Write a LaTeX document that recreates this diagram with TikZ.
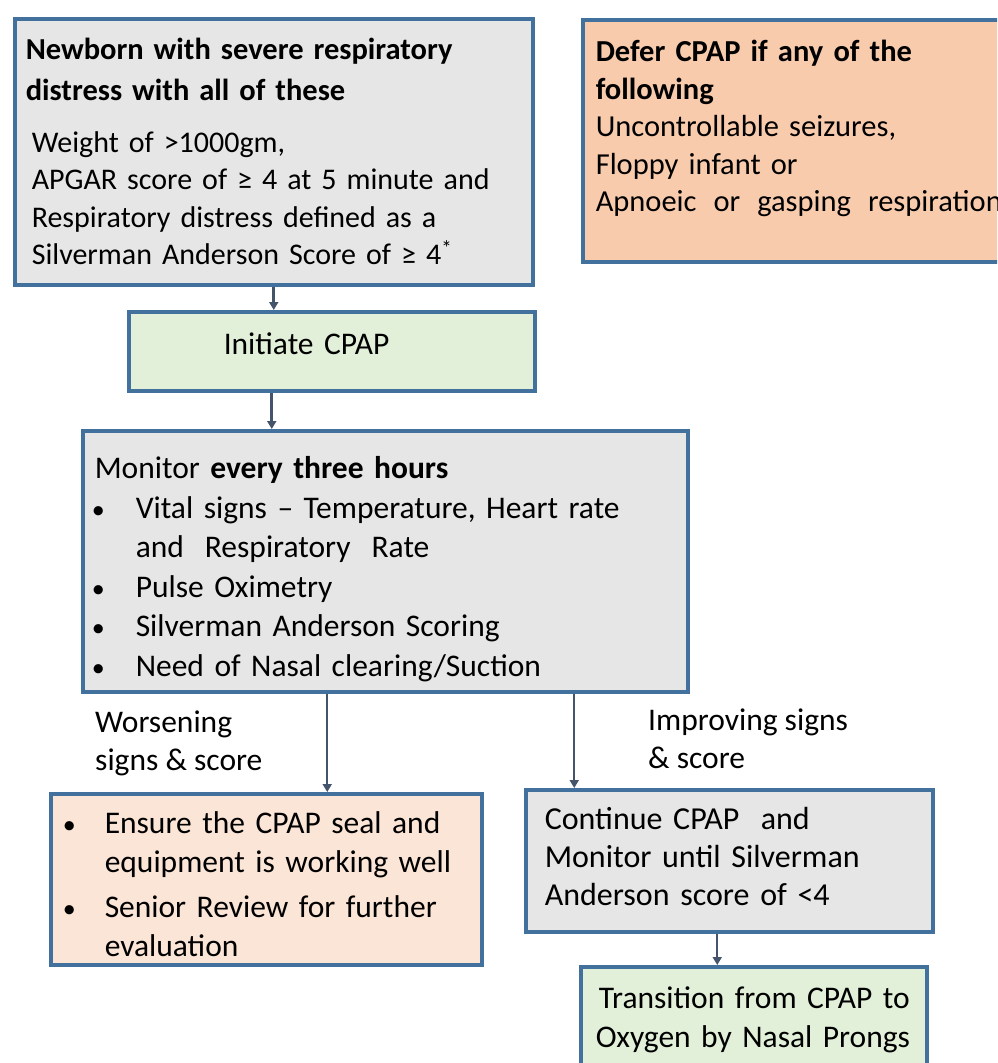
\documentclass[tikz,border=0pt]{standalone}
\usepackage{fontspec}
\setmainfont{Carlito}
\usetikzlibrary{arrows.meta}

\definecolor{boxblue}{HTML}{41719C}
\definecolor{arrowgrey}{HTML}{44546A}
\definecolor{greyfill}{HTML}{E7E6E6}
\definecolor{peachfill}{HTML}{F8CBAD}
\definecolor{lightpeach}{HTML}{FBE5D6}
\definecolor{greenfill}{HTML}{E2F0D9}

% text block of a box: #1 width, #2 height, #3 first baseline from top, #4 text
\newcommand{\inbox}[4]{\parbox[c][#2][t]{#1}{\raggedright
  \spaceskip=.3333em\xspaceskip=.5em\relax
  \vspace*{\dimexpr#3-26pt\relax}\rule{0pt}{26pt}\ignorespaces#4\par}}
% bullet line with hanging indent: #1 indent, #2 bullet shift, #3 text
\newcommand{\firstbullet}[3]{\hangindent=#1\hangafter=1
  \makebox[#1][l]{\hspace{#2}{\fontsize{26}{26}\selectfont•}}#3}
\newcommand{\bulletline}[3]{\par\noindent\firstbullet{#1}{#2}{#3}}

\begin{document}
\begin{tikzpicture}[x=1pt,y=-1pt,
    box/.style={draw=boxblue, line width=3.5pt, anchor=north west,
      inner ysep=0pt, font=\fontsize{31.5}{39.5}\selectfont},
    arrow/.style={draw=arrowgrey, line width=1.8pt, -{Triangle[width=9pt,length=8pt]}},
    lbl/.style={anchor=north west, inner sep=0pt, align=left, font=\fontsize{31.5}{38}\selectfont}]
    \clip (0,0) rectangle (997,1063);

    % Boxes
    \node[box, fill=greyfill, inner xsep=11pt, font=\fontsize{30}{37.5}\selectfont] (newborn) at (13,17)
      {\inbox{496pt}{266pt}{41pt}{{\bfseries\fontsize{30.5}{41}\selectfont Newborn with severe respiratory\\ distress with all of these\par}
       \vspace{14pt}
       {\leftskip=6pt Weight of >1000gm,\\ APGAR score of ≥ 4 at 5 minute and\\ Respiratory distress defined as a\\ Silverman Anderson Score of ≥ 4\textsuperscript{*}\par}}};
    \node[box, fill=peachfill, inner xsep=13pt, font=\fontsize{30.5}{37.5}\selectfont] (defer) at (581,18)
      {\inbox{474pt}{242pt}{42pt}{{\bfseries Defer CPAP if any of the\\ following\par}
       Uncontrollable seizures,\\ Floppy infant or\\
       Apnoeic\hspace{17pt}or\hspace{17pt}gasping\hspace{17pt}respiration}};
    \node[box, fill=greenfill, inner xsep=95pt] (initiate) at (127,310)
      {\inbox{216pt}{79pt}{43pt}{Initiate CPAP}};
    \node[box, fill=greyfill, inner xsep=12pt] (monitor) at (81,429)
      {\inbox{581pt}{261pt}{48pt}{Monitor \textbf{every three hours}
       \bulletline{41pt}{-3pt}{Vital signs – Temperature, Heart rate\newline and~ Respiratory~ Rate}
       \bulletline{41pt}{-3pt}{Pulse Oximetry}
       \bulletline{41pt}{-3pt}{Silverman Anderson Scoring}
       \bulletline{41pt}{-3pt}{Need of Nasal clearing/Suction}}};
    \node[box, fill=lightpeach, inner xsep=18pt, font=\fontsize{31.5}{38.5}\selectfont] (ensure) at (49,792)
      {\inbox{395pt}{171pt}{40pt}{\setlength{\parskip}{7pt}%
       \firstbullet{36pt}{-6pt}{Ensure the CPAP seal and\newline equipment is working well}
       \bulletline{36pt}{-6pt}{Senior Review for further\newline evaluation}}};
    \node[box, fill=greyfill, inner xsep=19pt, font=\fontsize{32}{38}\selectfont] (continue) at (524,788)
      {\inbox{369pt}{142pt}{40pt}{Continue CPAP~ and\\ Monitor until Silverman\\ Anderson score of <4}};
    \node[box, fill=greenfill, inner xsep=12pt, font=\fontsize{31.5}{39}\selectfont] (transition) at (579,965)
      {\inbox{322pt}{104pt}{42pt}{\hspace*{6pt}Transition from CPAP to\\ \hspace*{3pt}Oxygen by Nasal Prongs}};

    % Labels
    \node[lbl] (worse) at (95,711) {Worsening\\signs \& score};
    \node[lbl] (improve) at (648,709) {Improving signs\\\& score};

    % Arrows
    \draw[arrow, line width=2.6pt] (newborn.south) -- (newborn.south |- initiate.north);
    \draw[arrow, line width=2.6pt] ([xshift=-60pt]initiate.south) -- ([xshift=-60pt]initiate.south |- monitor.north);
    \draw[arrow] ([xshift=-58pt]monitor.south) -- ([xshift=-58pt]monitor.south |- ensure.north);
    \draw[arrow] ([xshift=189pt]monitor.south) -- ([xshift=189pt]monitor.south |- continue.north);
    \draw[arrow] ([xshift=-12pt]continue.south) -- ([xshift=-12pt]continue.south |- transition.north);
\end{tikzpicture}
\end{document}
